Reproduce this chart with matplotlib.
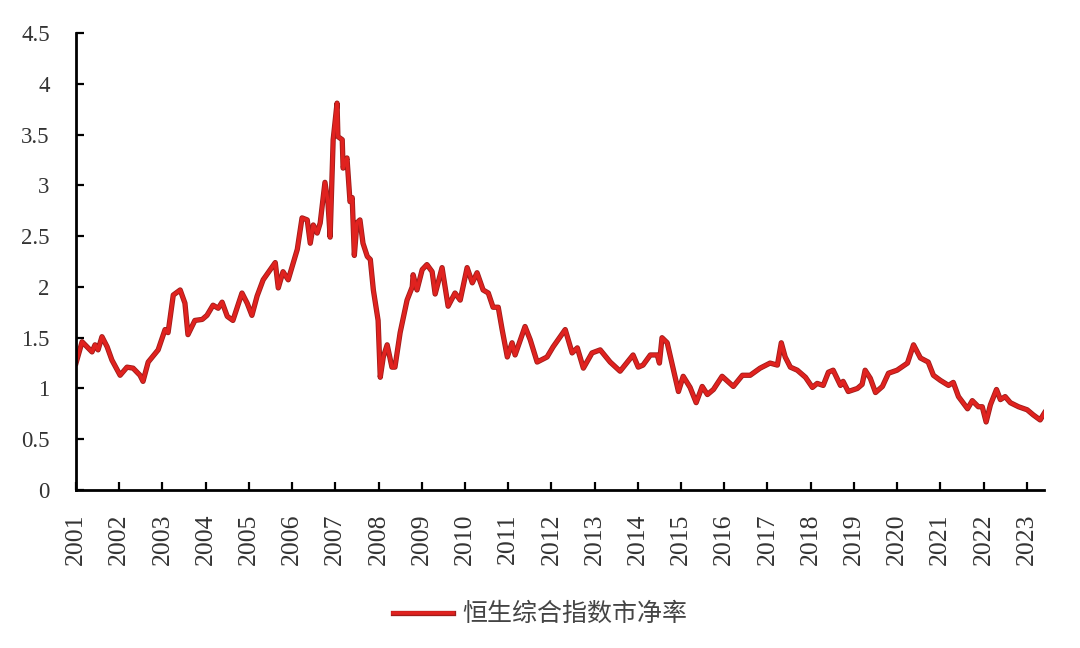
import matplotlib
matplotlib.use("Agg")
import matplotlib.pyplot as plt
import matplotlib.patheffects as pe
from matplotlib.font_manager import FontProperties

# ---- data (decimal year, P/B ratio) ----
dates = [
    2001.00, 2001.14, 2001.37, 2001.44, 2001.51, 2001.60, 2001.72, 2001.83,
    2002.02, 2002.18, 2002.32, 2002.48, 2002.55, 2002.67, 2002.90,
    2003.06, 2003.13, 2003.25, 2003.41, 2003.52, 2003.59, 2003.75, 2003.92,
    2004.03, 2004.17, 2004.29, 2004.38, 2004.50, 2004.63, 2004.84, 2004.96,
    2005.07, 2005.19, 2005.33, 2005.61, 2005.68, 2005.79, 2005.91,
    2006.12, 2006.23, 2006.35, 2006.42, 2006.49, 2006.58, 2006.65, 2006.76,
    2006.83, 2006.88, 2006.95,
    2007.04, 2007.06, 2007.16, 2007.18, 2007.27, 2007.34, 2007.39, 2007.44,
    2007.50, 2007.57, 2007.64, 2007.74, 2007.81, 2007.88, 2007.99,
    2008.04, 2008.11, 2008.20, 2008.31, 2008.38, 2008.50, 2008.66, 2008.78,
    2008.80, 2008.89,
    2009.01, 2009.12, 2009.24, 2009.31, 2009.47, 2009.61, 2009.77, 2009.89,
    2010.05, 2010.17, 2010.28, 2010.42, 2010.54, 2010.65, 2010.77, 2010.86,
    2010.98,
    2011.09, 2011.16, 2011.39, 2011.51, 2011.67, 2011.90,
    2012.04, 2012.32, 2012.48, 2012.60, 2012.74, 2012.94,
    2013.13, 2013.36, 2013.59, 2013.89,
    2014.01, 2014.12, 2014.29, 2014.45, 2014.50, 2014.56, 2014.68, 2014.80,
    2014.94,
    2015.05, 2015.21, 2015.35, 2015.49, 2015.61, 2015.75, 2015.95,
    2016.21, 2016.42, 2016.60, 2016.83,
    2017.06, 2017.23, 2017.32, 2017.41, 2017.53, 2017.69, 2017.88,
    2018.04, 2018.15, 2018.29, 2018.41, 2018.52, 2018.69, 2018.75, 2018.87,
    2019.08, 2019.19, 2019.26, 2019.38, 2019.50, 2019.66, 2019.80,
    2020.00, 2020.24, 2020.38, 2020.54, 2020.72, 2020.84,
    2021.00, 2021.19, 2021.30, 2021.42, 2021.63, 2021.74, 2021.88, 2021.97,
    2022.06, 2022.16, 2022.30, 2022.39, 2022.50, 2022.62, 2022.81,
    2023.01, 2023.15, 2023.31, 2023.41,
]
pb_ratio = [
    1.25, 1.46, 1.36, 1.43, 1.38, 1.51, 1.41, 1.28,
    1.13, 1.21, 1.20, 1.13, 1.07, 1.26, 1.38,
    1.58, 1.55, 1.92, 1.97, 1.84, 1.53, 1.67, 1.68,
    1.72, 1.82, 1.79, 1.85, 1.71, 1.67, 1.94, 1.84,
    1.72, 1.91, 2.07, 2.24, 1.99, 2.15, 2.07,
    2.37, 2.68, 2.66, 2.43, 2.61, 2.53, 2.63, 3.03,
    2.83, 2.49, 3.45,
    3.81, 3.48, 3.45, 3.17, 3.27, 2.84, 2.88, 2.31,
    2.63, 2.66, 2.43, 2.30, 2.27, 1.97, 1.67,
    1.11, 1.31, 1.43, 1.21, 1.21, 1.55, 1.87, 2.00,
    2.12, 1.97,
    2.17, 2.22, 2.15, 1.93, 2.19, 1.81, 1.94, 1.87,
    2.19, 2.04, 2.14, 1.97, 1.94, 1.80, 1.80, 1.58,
    1.31,
    1.45, 1.33, 1.61, 1.48, 1.26, 1.31,
    1.41, 1.58, 1.35, 1.40, 1.20, 1.35,
    1.38, 1.26, 1.17, 1.33,
    1.21, 1.23, 1.33, 1.33, 1.25, 1.50, 1.45, 1.23,
    0.97,
    1.12, 1.01, 0.86, 1.02, 0.94, 0.99, 1.12,
    1.02, 1.13, 1.13, 1.20,
    1.25, 1.23, 1.45, 1.31, 1.21, 1.18, 1.11,
    1.01, 1.05, 1.03, 1.16, 1.18, 1.03, 1.07, 0.97,
    1.00, 1.04, 1.18, 1.10, 0.96, 1.02, 1.15,
    1.18, 1.25, 1.43, 1.30, 1.26, 1.13,
    1.08, 1.03, 1.06, 0.92, 0.80, 0.88, 0.82, 0.82,
    0.67, 0.84, 0.99, 0.89, 0.92, 0.86, 0.82,
    0.79, 0.74, 0.69, 0.76,
]
year_ticks = list(range(2001, 2024))
year_labels = [str(y) for y in year_ticks]
y_ticks = [0, 0.5, 1, 1.5, 2, 2.5, 3, 3.5, 4, 4.5]
y_labels = ["0", "0.5", "1", "1.5", "2", "2.5", "3", "3.5", "4", "4.5"]
series_name = "恒生综合指数市净率"

# ---- figure ----
fig = plt.figure(figsize=(10.8, 6.48), dpi=100, facecolor="white")
ax = fig.add_axes([0.0704, 0.2438, 0.8963, 0.7052])

line, = ax.plot(dates, pb_ratio, color="#e0221f", lw=2.6, solid_joinstyle="round",
                label=series_name,
                path_effects=[pe.Stroke(linewidth=3.8, foreground="#9e1c1a"), pe.Normal()])

ax.set_xlim(2001, 2023.4)
ax.set_ylim(0, 4.5)

for s in ["top", "right"]:
    ax.spines[s].set_visible(False)
for s in ["left", "bottom"]:
    ax.spines[s].set_linewidth(2.0)
    ax.spines[s].set_color("black")

serif = "Liberation Serif"
ax.set_yticks(y_ticks)
ax.set_yticklabels(y_labels, fontfamily=serif, fontsize=16.5, color="#333333")
ax.set_xticks(year_ticks)
ax.set_xticklabels(year_labels, fontfamily=serif, fontsize=18.5, rotation=90,
                   color="#333333")
ax.tick_params(axis="y", direction="in", length=6, width=1.6, pad=19)
ax.tick_params(axis="x", direction="in", length=6, width=1.6, pad=17)

leg_font = FontProperties(family=["Noto Sans CJK SC", "DejaVu Sans"], size=18,
                          weight="light")
fig.legend(handles=[line], labels=[series_name], loc="center",
           bbox_to_anchor=(0.5, 0.052), frameon=False, prop=leg_font,
           handlelength=2.4, handletextpad=0.4, labelcolor="#444444")

fig.savefig("out.png", dpi=100, facecolor="white")
